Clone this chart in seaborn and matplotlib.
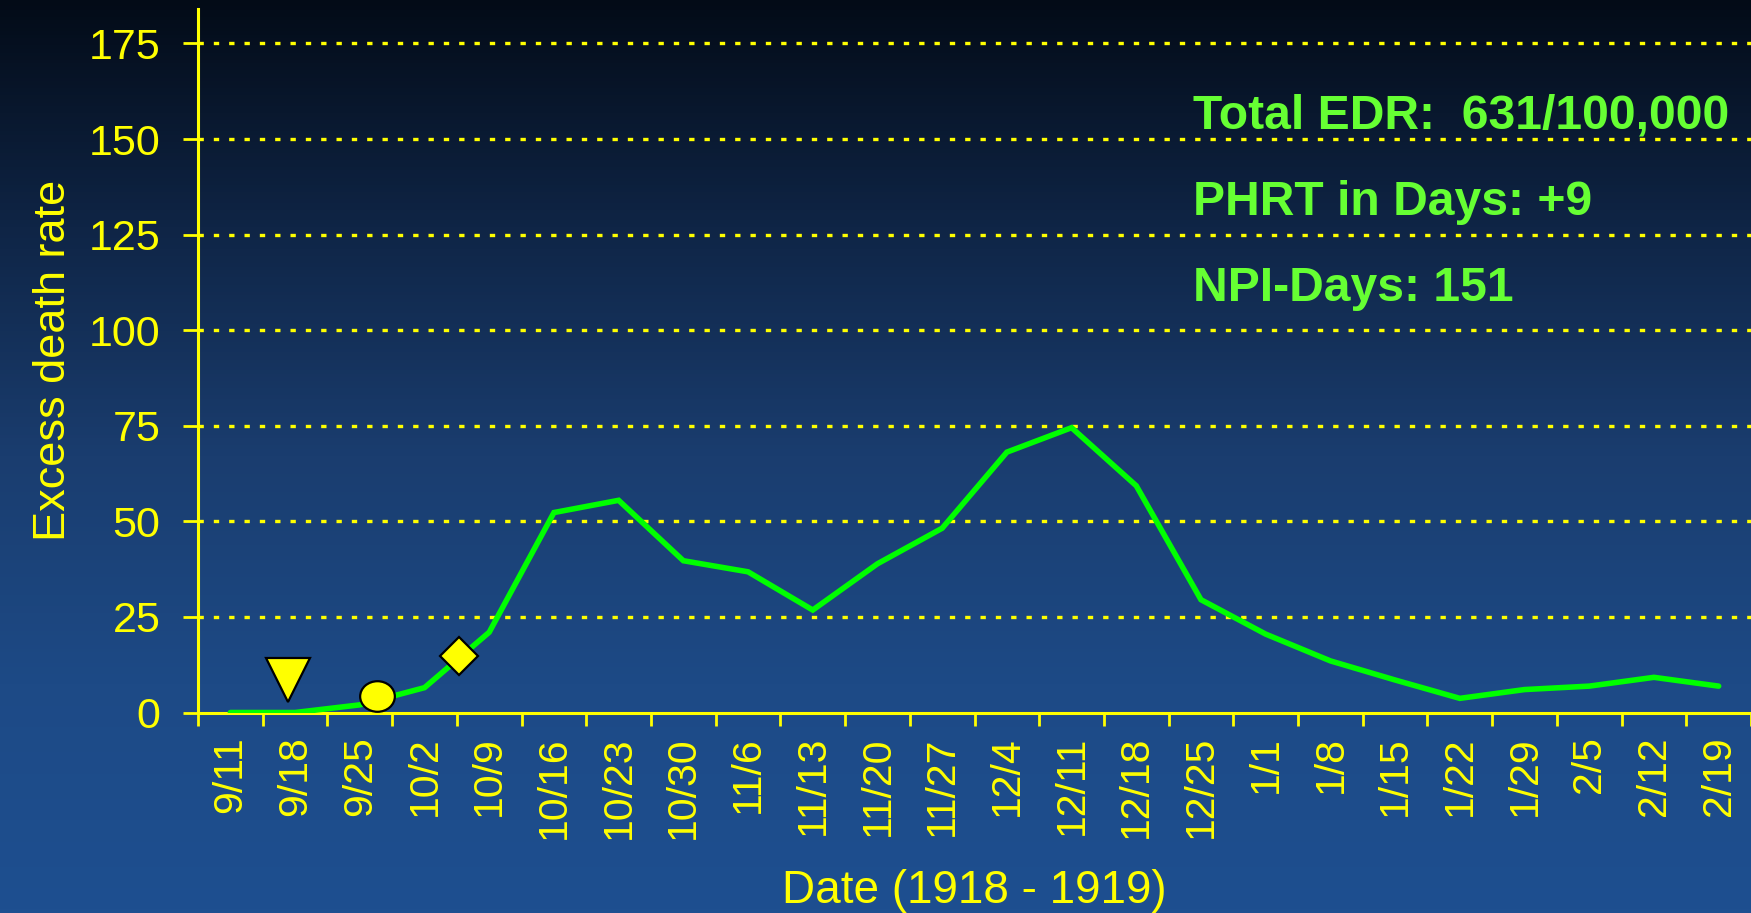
import numpy as np
import matplotlib
matplotlib.use("Agg")
import matplotlib.pyplot as plt
import seaborn as sns
from matplotlib.path import Path
from matplotlib.transforms import Affine2D
from matplotlib.colors import LinearSegmentedColormap

# dati
dates = ["9/11", "9/18", "9/25", "10/2", "10/9", "10/16", "10/23", "10/30",
         "11/6", "11/13", "11/20", "11/27", "12/4", "12/11", "12/18", "12/25",
         "1/1", "1/8", "1/15", "1/22", "1/29", "2/5", "2/12", "2/19"]
excess_death = [0, 0, 2, 6.5, 21, 52.3, 55.5, 39.7, 36.8, 26.8, 38.9, 48.2,
                68.1, 74.5, 59.3, 29.5, 20.5, 13.5, 8.5, 3.7, 6.0, 6.9, 9.2, 6.9]

# eventi (posizione sull'asse delle categorie, valore)
event_x = [0.89, 2.26, 3.53]
event_y = [8.5, 4.3, 14.8]

y_ticks = [0, 25, 50, 75, 100, 125, 150, 175]
info_lines = ["Total EDR:  631/100,000", "PHRT in Days: +9", "NPI-Days: 151"]

yellow = "#ffff00"
green_line = "#00ff00"
green_text = "#66ff33"

sns.set_theme(style="white")
plt.rcParams['font.family'] = ['Liberation Sans', 'DejaVu Sans']

fig = plt.figure(figsize=(17.51, 9.13), dpi=100)

# sfondo sfumato
bg = fig.add_axes([0, 0, 1, 1], zorder=-10)
cmap = LinearSegmentedColormap.from_list(
    "bg", ["#030b17", "#0f2546", "#1a3d6f", "#1d4a86", "#1e4f90"])
grad = np.linspace(0, 1, 256).reshape(-1, 1)
bg.imshow(grad, aspect="auto", cmap=cmap, extent=[0, 1, 1, 0])
bg.set_axis_off()

ax = fig.add_axes([0.1131, 0.2196, 0.8869, 0.7705])
ax.set_facecolor("none")

x = np.arange(len(dates))
sns.lineplot(x=x, y=excess_death, ax=ax, color=green_line, linewidth=4.0,
             solid_capstyle="round", solid_joinstyle="miter", zorder=3)

# marcatori eventi
ellipse = Path(Affine2D().scale(1.0, 0.88).transform(Path.unit_circle().vertices),
               Path.unit_circle().codes)
ax.plot(event_x[0], event_y[0], marker="v", markersize=31, color=yellow,
        markeredgecolor="black", markeredgewidth=1.6, zorder=5)
ax.plot(event_x[1], event_y[1], marker=ellipse, markersize=25, color=yellow,
        markeredgecolor="black", markeredgewidth=1.6, zorder=5)
ax.plot(event_x[2], event_y[2], marker="D", markersize=19.5, color=yellow,
        markeredgecolor="black", markeredgewidth=1.6, zorder=5)

ax.set_xlim(-0.5, len(dates) - 0.5)
ax.set_ylim(0, 184)

# griglia
for v in y_ticks[1:]:
    ax.axhline(v, color=yellow, linewidth=2.4, linestyle=(0, (1.6, 3.0)), zorder=1)

ax.set_yticks(y_ticks)
ax.set_yticklabels([str(v) for v in y_ticks])
ax.set_xticks(np.arange(-0.5, len(dates), 1.0))
ax.set_xticklabels([])
ax.set_xticks(x, minor=True)
ax.set_xticklabels(dates, minor=True, rotation=90)

ax.tick_params(axis="y", which="major", direction="out", length=11, width=2,
               color=yellow, labelcolor=yellow, labelsize=31, pad=16, left=True)
ax.tick_params(axis="x", which="major", direction="out", length=9, width=2,
               color=yellow, bottom=True)
ax.tick_params(axis="x", which="minor", length=0, labelcolor=yellow,
               labelsize=29.5, pad=17)

for side in ["top", "right"]:
    ax.spines[side].set_visible(False)
for side in ["left", "bottom"]:
    ax.spines[side].set_color(yellow)
    ax.spines[side].set_linewidth(2.2)

ax.set_ylabel("Excess death rate", color=yellow, fontsize=32.5, labelpad=11)
ax.set_xlabel("Date (1918 - 1919)", color=yellow, fontsize=33, labelpad=22)

for i, line in enumerate(info_lines):
    fig.text(1193 / 1751, 1 - (128 + 86.5 * i) / 913, line, color=green_text,
             fontsize=34.6, fontweight="bold", ha="left", va="baseline")

fig.savefig("out.png", dpi=100)
